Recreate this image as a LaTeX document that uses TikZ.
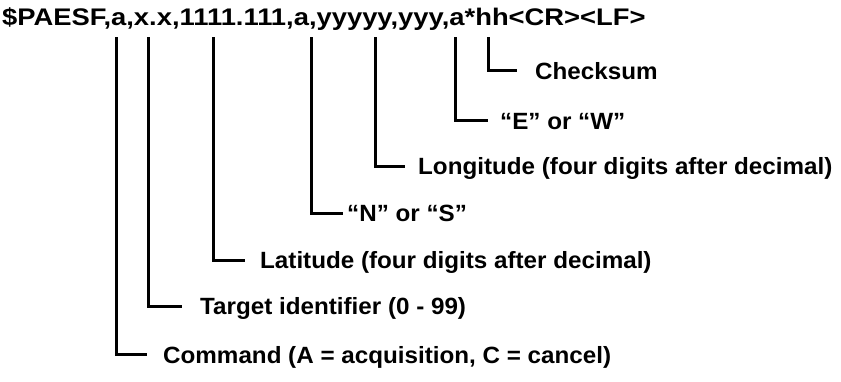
\documentclass[tikz,border=0pt]{standalone}
\usepackage{fontspec}
\newfontfamily\dgfont{Liberation Sans Bold}[FakeStretch=1.03]
\newfontfamily\hdfont{Liberation Sans Bold}[FakeStretch=1.14]
\begin{document}
\begin{tikzpicture}[x=1pt,y=-1pt,
  lab/.style={anchor=base west,inner sep=0pt,font=\dgfont\fontsize{23.5}{28}\selectfont},
  hdr/.style={anchor=base west,inner sep=0pt,font=\hdfont\fontsize{24}{28}\selectfont},
  conn/.style={line width=3pt,line cap=butt,line join=miter}]
\useasboundingbox (0,0) rectangle (841,381);
\node[hdr] (head) at (2,25) {\$PAESF,a,x.x,1111.111,a,yyyyy,yyy,a*hh<CR><LF>};
% labels
\node[lab] (l1) at (535,79) {Checksum};
\node[lab] (l2) at (500,129) {“E” or “W”};
\node[lab] (l3) at (418,174) {Longitude (four digits after decimal)};
\node[lab] (l4) at (347,221) {“N” or “S”};
\node[lab] (l5) at (260,268) {Latitude (four digits after decimal)};
\node[lab] (l6) at (200,314) {Target identifier (0 - 99)};
\node[lab] (l7) at (163,363) {Command (A = acquisition, C = cancel)};
% connector top ends and corner ends
\coordinate (t1) at (488,37); \coordinate (e1) at (517,70);
\coordinate (t2) at (455,37); \coordinate (e2) at (488,120);
\coordinate (t3) at (375,37); \coordinate (e3) at (405,166);
\coordinate (t4) at (311,37); \coordinate (e4) at (343,213);
\coordinate (t5) at (213,37); \coordinate (e5) at (245,260);
\coordinate (t6) at (148,37); \coordinate (e6) at (182,306);
\coordinate (t7) at (116,37); \coordinate (e7) at (147,354);
\foreach \i in {1,...,7}{\draw[conn] (t\i) |- (e\i);}
\end{tikzpicture}
\end{document}
